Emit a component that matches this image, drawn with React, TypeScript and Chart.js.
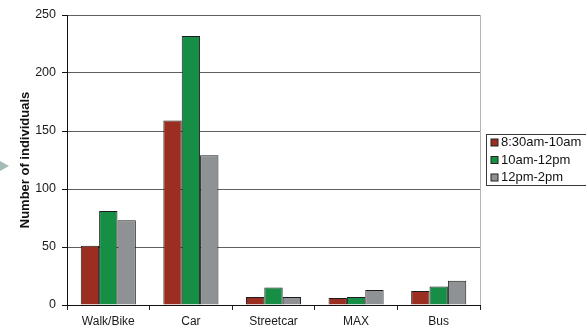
import React, { useEffect, useRef } from "react";
import { Chart, registerables } from "chart.js";

Chart.register(...registerables);

const categories = ["Walk/Bike", "Car", "Streetcar", "MAX", "Bus"];
const seriesLabels = ["8:30am-10am", "10am-12pm", "12pm-2pm"];
const morning = [51, 159, 7, 6, 12];
const midday = [81, 232, 15, 7, 16];
const afternoon = [73, 129, 7, 13, 21];
const seriesColors = ["#9b2e20", "#178e45", "#8e9295"];
const yTicks = [0, 50, 100, 150, 200, 250];

const FONT = "'Liberation Sans', Arial, Helvetica, sans-serif";

// Boxed legend on the right plus the light frame line on the plot's right edge
const framePlugin = {
  id: "frame",
  afterDraw(chart: any) {
    const { ctx, chartArea } = chart;
    ctx.save();
    ctx.strokeStyle = "#b4b4b4";
    ctx.lineWidth = 1;
    ctx.beginPath();
    ctx.moveTo(Math.round(chartArea.right) + 0.5, chartArea.top);
    ctx.lineTo(Math.round(chartArea.right) + 0.5, chartArea.bottom);
    ctx.stroke();

    const boxX = chartArea.right + 6.5;
    const boxY = 134.5;
    const rowH = 17.5;
    const ds = chart.data.datasets;
    ctx.strokeStyle = "#3a3a3a";
    ctx.strokeRect(boxX, boxY, 120, rowH * ds.length - 1.5);
    ctx.font = `13px ${FONT}`;
    ctx.textBaseline = "middle";
    ctx.textAlign = "left";
    ds.forEach((d: any, i: number) => {
      const cy = boxY + 8 + i * rowH;
      ctx.fillStyle = d.backgroundColor;
      ctx.fillRect(boxX + 4.5, cy - 3.5, 7, 7);
      ctx.strokeStyle = "#222";
      ctx.strokeRect(boxX + 4.5, cy - 3.5, 7, 7);
      ctx.fillStyle = "#111";
      ctx.fillText(d.label, boxX + 14.5, cy);
    });
    ctx.restore();
  },
};

export default function App() {
  const canvasRef = useRef<HTMLCanvasElement | null>(null);

  useEffect(() => {
    if (!canvasRef.current) return;
    const data = [morning, midday, afternoon];
    const chart = new Chart(canvasRef.current, {
      type: "bar",
      data: {
        labels: categories,
        datasets: seriesLabels.map((label, i) => ({
          label,
          data: data[i],
          backgroundColor: seriesColors[i],
          borderColor: "#1c1c1c",
          borderWidth: 1,
          categoryPercentage: 0.667,
          barPercentage: 1,
        })),
      },
      options: {
        animation: false,
        responsive: false,
        devicePixelRatio: 1,
        layout: { padding: { top: 15, right: 106, left: 0, bottom: 0 } },
        plugins: {
          legend: { display: false },
          tooltip: { enabled: false },
        },
        scales: {
          x: {
            afterFit: (scale: any) => {
              scale.height = 24;
            },
            grid: {
              offset: true,
              drawOnChartArea: false,
              drawTicks: true,
              tickLength: 5,
              color: "#222",
            },
            border: { color: "#111", width: 1 },
            ticks: {
              color: "#1a1a1a",
              font: { family: FONT, size: 12 },
              padding: 4,
              maxRotation: 0,
            },
          },
          y: {
            min: 0,
            max: 250,
            afterFit: (scale: any) => {
              scale.width = 67;
            },
            afterBuildTicks: (scale: any) => {
              scale.ticks = yTicks.map((v) => ({ value: v }));
            },
            grid: {
              color: "#5f5f5f",
              tickColor: "#111",
              tickLength: 5,
            },
            border: { color: "#111", width: 1 },
            ticks: {
              color: "#1a1a1a",
              font: { family: FONT, size: 12.5 },
              padding: 6,
            },
            title: {
              display: true,
              text: "Number of individuals",
              color: "#111",
              font: { family: FONT, size: 13, weight: "bold" },
              padding: { top: 18, bottom: 0 },
            },
          },
        },
      },
      plugins: [framePlugin],
    });
    return () => chart.destroy();
  }, []);

  return (
    <div style={{ position: "fixed", left: 0, top: 0, width: 586, height: 329, background: "#fff" }}>
      <canvas ref={canvasRef} width={586} height={329} style={{ display: "block" }} />
      <div
        style={{
          position: "absolute",
          left: 0,
          top: 161,
          width: 0,
          height: 0,
          borderTop: "5px solid transparent",
          borderBottom: "5px solid transparent",
          borderLeft: "9px solid #a3bcb7",
        }}
      />
    </div>
  );
}
